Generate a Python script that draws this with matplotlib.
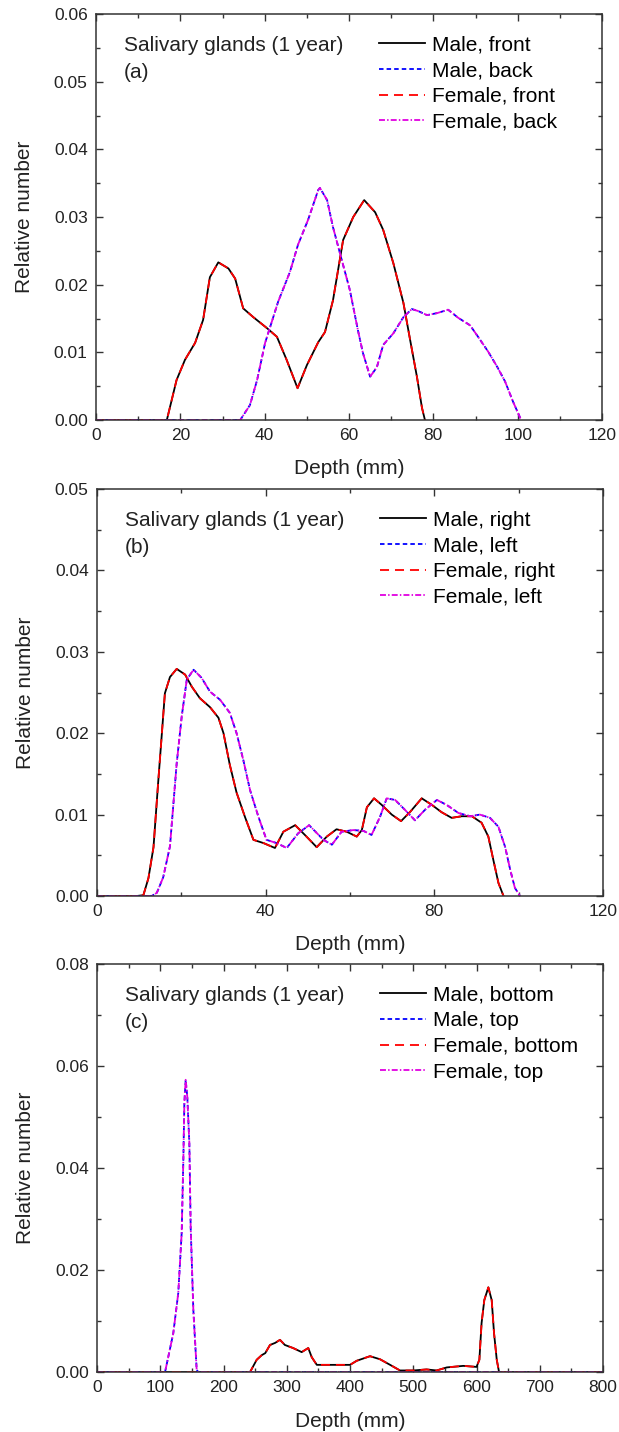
import numpy as np
import matplotlib
matplotlib.use('Agg')
import matplotlib.pyplot as plt
from matplotlib.ticker import MultipleLocator, FormatStrFormatter

plt.rcParams['font.family'] = ['Liberation Sans', 'DejaVu Sans']

# panel (a): front / back depth distributions (male and female coincide)
a_front_x = [0, 16.8, 19.1, 21.1, 23.5, 25.4, 27.0, 29.0, 31.4, 33.0, 34.9, 37.3, 40.5,
             42.9, 45.2, 47.8, 50.0, 52.7, 54.3, 56.2, 58.6, 61.0, 63.6, 66.2, 68.1,
             70.5, 72.9, 74.5, 76.1, 77.3, 78.0]
a_front_y = [0, 0, 0.0059, 0.0089, 0.0114, 0.0148, 0.0211, 0.0233, 0.0224, 0.0209, 0.0165,
             0.0152, 0.0136, 0.0123, 0.0089, 0.0047, 0.0081, 0.0115, 0.0130, 0.0177, 0.0266,
             0.0300, 0.0325, 0.0307, 0.0281, 0.0232, 0.0173, 0.0118, 0.0064, 0.0018, 0]
a_back_x = [0, 34.2, 36.5, 38.2, 40.1, 43.2, 46.0, 47.9, 50.3, 52.7, 53.1, 54.8, 56.2, 58.3,
            60.2, 62.1, 63.3, 65.0, 66.6, 68.1, 70.5, 72.9, 74.9, 76.4, 78.5, 80.9, 83.5,
            85.9, 88.7, 90.6, 93.0, 95.1, 97.0, 98.9, 100.6, 101.0]
a_back_y = [0, 0, 0.0022, 0.0059, 0.0114, 0.0175, 0.0219, 0.0259, 0.0296, 0.0340, 0.0343,
            0.0325, 0.0285, 0.0236, 0.0192, 0.0133, 0.0099, 0.0064, 0.0078, 0.0111, 0.0128,
            0.0152, 0.0164, 0.0161, 0.0155, 0.0158, 0.0163, 0.0151, 0.0140, 0.0123, 0.0101,
            0.0079, 0.0057, 0.0027, 0.0003, 0]

# panel (b): right / left
b_right_x = [0, 9.4, 11.0, 12.2, 13.4, 14.5, 16.1, 17.3, 18.9, 20.9, 22.5, 24.4, 26.8, 28.8,
             30.0, 31.5, 33.1, 35.1, 37.1, 39.5, 42.2, 44.2, 47.0, 49.3, 52.1, 54.5, 56.8,
             59.2, 61.6, 62.8, 64.0, 65.7, 67.5, 69.9, 72.1, 74.2, 77.0, 79.4, 81.7, 84.1,
             86.5, 88.9, 91.2, 92.8, 94.0, 95.2, 96.4]
b_right_y = [0, 0, 0.0001, 0.0022, 0.0060, 0.0139, 0.0249, 0.0269, 0.0279, 0.0272, 0.0257,
             0.0243, 0.0232, 0.0219, 0.0200, 0.0161, 0.0127, 0.0097, 0.0069, 0.0065, 0.0059,
             0.0079, 0.0087, 0.0075, 0.0060, 0.0073, 0.0082, 0.0079, 0.0073, 0.0081, 0.0109,
             0.0120, 0.0112, 0.0100, 0.0092, 0.0103, 0.0120, 0.0112, 0.0103, 0.0096, 0.0098,
             0.0098, 0.0090, 0.0073, 0.0044, 0.0016, 0]
b_left_x = [0, 13.0, 14.2, 15.7, 17.3, 18.9, 20.1, 21.3, 22.9, 24.8, 26.8, 29.2, 31.5, 33.1,
            34.7, 36.3, 38.3, 40.2, 42.6, 45.0, 47.7, 50.3, 53.7, 55.7, 58.0, 60.8, 63.2,
            65.1, 67.1, 68.7, 70.7, 73.0, 75.4, 77.8, 80.6, 82.9, 85.7, 88.5, 90.8, 93.2,
            95.2, 96.8, 98.0, 99.1, 100.3]
b_left_y = [0, 0, 0.0004, 0.0023, 0.0061, 0.0163, 0.0221, 0.0266, 0.0278, 0.0268, 0.0251,
            0.0241, 0.0225, 0.0200, 0.0167, 0.0130, 0.0097, 0.0069, 0.0065, 0.0059, 0.0077,
            0.0087, 0.0069, 0.0063, 0.0079, 0.0081, 0.0080, 0.0075, 0.0097, 0.0120, 0.0118,
            0.0106, 0.0093, 0.0106, 0.0118, 0.0112, 0.0102, 0.0098, 0.0100, 0.0096, 0.0085,
            0.0060, 0.0032, 0.0010, 0]

# panel (c): bottom / top
c_bottom_x = [0, 242, 252.5, 260.4, 266, 273.5, 281.5, 289.3, 297, 310, 323.6, 334, 339.5,
              347.5, 373.6, 400, 410.6, 431.6, 447.4, 463.4, 479, 500, 521, 537, 553, 579,
              600, 604.5, 608, 612.3, 618.7, 624, 627.7, 632, 635.6, 800]
c_bottom_y = [0, 0, 0.0024, 0.0033, 0.0037, 0.0053, 0.0057, 0.0063, 0.0053, 0.0047, 0.0039,
              0.0047, 0.0029, 0.0014, 0.0014, 0.0014, 0.0022, 0.0031, 0.0025, 0.0014, 0.0003,
              0.0003, 0.0005, 0.0003, 0.0009, 0.0012, 0.0010, 0.0024, 0.0096, 0.0141, 0.0166,
              0.0141, 0.0076, 0.0024, 0, 0]
c_top_x = [0, 107.6, 120.6, 128.5, 133.9, 136.5, 138.1, 140.2, 142.8, 146.0, 148.1, 152.3,
           157.6, 160, 800]
c_top_y = [0, 0, 0.0076, 0.0155, 0.0273, 0.0416, 0.0527, 0.0573, 0.0539, 0.0449, 0.0284,
           0.0122, 0.0004, 0, 0]

panels = [
    dict(tag='(a)', sides=('front', 'back'), data=(a_front_x, a_front_y, a_back_x, a_back_y),
         xmax=120, xmaj=20, xmin=10, ymax=0.06, ymaj=0.01, ymin=0.005, rect=[0.1551, 0.7067, 0.8175, 0.2835]),
    dict(tag='(b)', sides=('right', 'left'), data=(b_right_x, b_right_y, b_left_x, b_left_y),
         xmax=120, xmaj=40, xmin=20, ymax=0.05, ymaj=0.01, ymin=0.005, rect=[0.1567, 0.3743, 0.8175, 0.2842]),
    dict(tag='(c)', sides=('bottom', 'top'), data=(c_bottom_x, c_bottom_y, c_top_x, c_top_y),
         xmax=800, xmaj=100, xmin=50, ymax=0.08, ymaj=0.02, ymin=0.01, rect=[0.1567, 0.0419, 0.8175, 0.2849]),
]

lw = 1.3
fig = plt.figure(figsize=(6.19, 14.32), dpi=100)
for p in panels:
    ax = fig.add_axes(p['rect'])
    x1, y1, x2, y2 = p['data']
    s1, s2 = p['sides']
    ax.plot(x1, y1, color='black', lw=lw, linestyle='-', label='Male, ' + s1)
    ax.plot(x2, y2, color='#0000ff', lw=lw, linestyle=(0, (2.5, 1.7)), label='Male, ' + s2)
    ax.plot(x1, y1, color='#ff0000', lw=lw, linestyle=(0, (5.0, 3.3)), label='Female, ' + s1)
    ax.plot(x2, y2, color='#e000e0', lw=lw, linestyle=(0, (3.3, 1.2, 0.8, 1.2)), label='Female, ' + s2)

    ax.set_xlim(0, p['xmax'])
    ax.set_ylim(0, p['ymax'])
    ax.xaxis.set_major_locator(MultipleLocator(p['xmaj']))
    ax.xaxis.set_minor_locator(MultipleLocator(p['xmin']))
    ax.yaxis.set_major_locator(MultipleLocator(p['ymaj']))
    ax.yaxis.set_minor_locator(MultipleLocator(p['ymin']))
    ax.yaxis.set_major_formatter(FormatStrFormatter('%.2f'))
    ax.tick_params(which='both', direction='in', top=True, right=True, color='#333333',
                   labelcolor='#222222', labelsize=12.5)
    ax.tick_params(which='major', length=5, width=1.0, pad=6)
    ax.tick_params(which='minor', length=3, width=1.0)
    for sp in ax.spines.values():
        sp.set_linewidth(1.1)
        sp.set_color('#333333')

    ax.set_xlabel('Depth (mm)', fontsize=15, color='#222222')
    ax.set_ylabel('Relative number', fontsize=15, color='#222222')
    ax.xaxis.set_label_coords(0.5, -0.097)
    ax.yaxis.set_label_coords(-0.122, 0.5)

    ax.text(0.055, 0.945, 'Salivary glands (1 year)', transform=ax.transAxes,
            fontsize=15, va='top', ha='left', color='#222222')
    ax.text(0.055, 0.88, p['tag'], transform=ax.transAxes,
            fontsize=15, va='top', ha='left', color='#222222')

    ax.legend(loc='upper left', bbox_to_anchor=(0.559, 0.947), frameon=False, fontsize=15,
              borderpad=0, borderaxespad=0, handlelength=2.2, handletextpad=0.35,
              labelspacing=0.32)

fig.savefig('out.png', dpi=100)
